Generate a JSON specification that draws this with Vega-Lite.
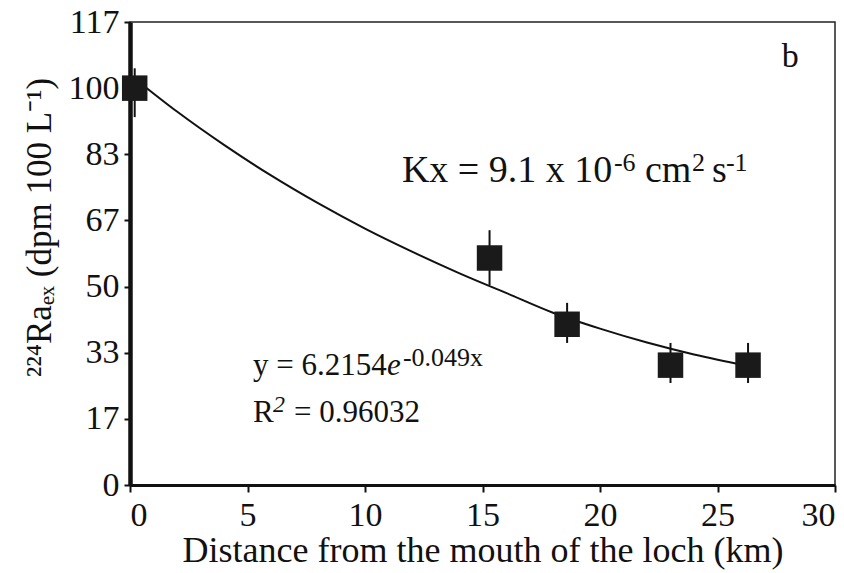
{
  "$schema": "https://vega.github.io/schema/vega-lite/v6.json",
  "autosize": "none",
  "width": 705,
  "height": 463,
  "padding": {"left": 130, "top": 22, "right": 9, "bottom": 88},
  "background": "white",
  "config": {
    "view": {"stroke": "#222", "strokeWidth": 1.5},
    "font": "Liberation Serif",
    "text": {"font": "Liberation Serif"},
    "axis": {"grid": false, "labelFont": "Liberation Serif", "titleFont": "Liberation Serif", "labelColor": "#111", "titleColor": "#111", "domainColor": "#111", "tickColor": "#111", "titleFontWeight": "normal"}
  },
  "datasets": {
    "obs": [
      {"d": 0.2, "ra": 100, "lo": 92.7, "hi": 105},
      {"d": 15.3, "ra": 57.2, "lo": 50.4, "hi": 64.2},
      {"d": 18.6, "ra": 40.5, "lo": 35.8, "hi": 45.9},
      {"d": 23.0, "ra": 30.2, "lo": 25.7, "hi": 35.8},
      {"d": 26.3, "ra": 30.2, "lo": 25.7, "hi": 35.8}
    ],
    "fit": [
      {"d": 0.5, "ra": 101},
      {"d": 2, "ra": 94.1},
      {"d": 4, "ra": 85.7},
      {"d": 6, "ra": 78.0},
      {"d": 8, "ra": 71.0},
      {"d": 10, "ra": 64.6},
      {"d": 12, "ra": 58.8},
      {"d": 14, "ra": 53.4},
      {"d": 16, "ra": 48.4},
      {"d": 18, "ra": 43.4},
      {"d": 20, "ra": 39.4},
      {"d": 22, "ra": 35.9},
      {"d": 24, "ra": 32.9},
      {"d": 26.3, "ra": 30.0}
    ],
    "one": [{}]
  },
  "layer": [
    {
      "data": {"name": "fit"},
      "mark": {"type": "line", "color": "#111", "strokeWidth": 2, "interpolate": "monotone"},
      "encoding": {
        "x": {"field": "d", "type": "quantitative", "scale": {"domain": [0, 30], "nice": false},
          "axis": {"values": [0, 5, 10, 15, 20, 25, 30], "title": "Distance from the mouth of the loch (km)", "labelFontSize": 34, "titleFontSize": 36, "domainWidth": 3, "tickWidth": 2, "tickSize": 7, "labelPadding": 6, "titlePadding": 1}},
        "y": {"field": "ra", "type": "quantitative", "scale": {"domain": [0, 116.667], "nice": false},
          "axis": {"values": [0, 16.667, 33.333, 50, 66.667, 83.333, 100, 116.667], "format": ".0f", "title": "²²⁴Raₑₓ (dpm 100 L⁻¹)", "labelFontSize": 34, "titleFontSize": 35, "domainWidth": 4.5, "tickWidth": 2, "tickSize": 6, "labelPadding": 5, "titleX": -80, "titleY": 205, "titleBaseline": "alphabetic", "titleAlign": "center", "titleAngle": 270}}
      }
    },
    {
      "data": {"name": "obs"},
      "mark": {"type": "rule", "color": "#111", "strokeWidth": 2},
      "encoding": {
        "x": {"field": "d", "type": "quantitative"},
        "y": {"field": "lo", "type": "quantitative"},
        "y2": {"field": "hi"}
      }
    },
    {
      "data": {"name": "obs"},
      "mark": {"type": "point", "shape": "square", "filled": true, "color": "#1a1a1a", "opacity": 1, "size": 650},
      "encoding": {
        "x": {"field": "d", "type": "quantitative"},
        "y": {"field": "ra", "type": "quantitative"}
      }
    },
    {
      "data": {"name": "one"},
      "mark": {"type": "text", "text": "b", "font": "Liberation Serif", "fontSize": 34, "color": "#111", "align": "center", "baseline": "alphabetic"},
      "encoding": {"x": {"datum": 28.1}, "y": {"datum": 105.3}}
    },
    {
      "data": {"name": "one"},
      "mark": {"type": "text", "text": "Kx = 9.1 x 10", "font": "Liberation Serif", "fontSize": 38, "color": "#111", "align": "left", "baseline": "alphabetic"},
      "encoding": {"x": {"datum": 11.57}, "y": {"datum": 76.4}}
    },
    {
      "data": {"name": "one"},
      "mark": {"type": "text", "text": "-6", "font": "Liberation Serif", "fontSize": 26, "color": "#111", "align": "left", "baseline": "alphabetic", "dx": 212, "dy": -11},
      "encoding": {"x": {"datum": 11.57}, "y": {"datum": 76.4}}
    },
    {
      "data": {"name": "one"},
      "mark": {"type": "text", "text": "cm", "font": "Liberation Serif", "fontSize": 38, "color": "#111", "align": "left", "baseline": "alphabetic", "dx": 243},
      "encoding": {"x": {"datum": 11.57}, "y": {"datum": 76.4}}
    },
    {
      "data": {"name": "one"},
      "mark": {"type": "text", "text": "2", "font": "Liberation Serif", "fontSize": 26, "color": "#111", "align": "left", "baseline": "alphabetic", "dx": 290, "dy": -11},
      "encoding": {"x": {"datum": 11.57}, "y": {"datum": 76.4}}
    },
    {
      "data": {"name": "one"},
      "mark": {"type": "text", "text": "s", "font": "Liberation Serif", "fontSize": 38, "color": "#111", "align": "left", "baseline": "alphabetic", "dx": 310},
      "encoding": {"x": {"datum": 11.57}, "y": {"datum": 76.4}}
    },
    {
      "data": {"name": "one"},
      "mark": {"type": "text", "text": "-1", "font": "Liberation Serif", "fontSize": 26, "color": "#111", "align": "left", "baseline": "alphabetic", "dx": 324, "dy": -11},
      "encoding": {"x": {"datum": 11.57}, "y": {"datum": 76.4}}
    },
    {
      "data": {"name": "one"},
      "mark": {"type": "text", "text": "y = 6.2154", "font": "Liberation Serif", "fontSize": 31, "color": "#111", "align": "left", "baseline": "alphabetic"},
      "encoding": {"x": {"datum": 5.23}, "y": {"datum": 27.7}}
    },
    {
      "data": {"name": "one"},
      "mark": {"type": "text", "text": "e", "font": "Liberation Serif", "fontSize": 31, "fontStyle": "italic", "color": "#111", "align": "left", "baseline": "alphabetic", "dx": 134},
      "encoding": {"x": {"datum": 5.23}, "y": {"datum": 27.7}}
    },
    {
      "data": {"name": "one"},
      "mark": {"type": "text", "text": "-0.049x", "font": "Liberation Serif", "fontSize": 26, "color": "#111", "align": "left", "baseline": "alphabetic", "dx": 150, "dy": -9},
      "encoding": {"x": {"datum": 5.23}, "y": {"datum": 27.7}}
    },
    {
      "data": {"name": "one"},
      "mark": {"type": "text", "text": "R", "font": "Liberation Serif", "fontSize": 31, "color": "#111", "align": "left", "baseline": "alphabetic"},
      "encoding": {"x": {"datum": 5.23}, "y": {"datum": 15.9}}
    },
    {
      "data": {"name": "one"},
      "mark": {"type": "text", "text": "2", "font": "Liberation Serif", "fontSize": 24, "fontStyle": "italic", "color": "#111", "align": "left", "baseline": "alphabetic", "dx": 20, "dy": -10},
      "encoding": {"x": {"datum": 5.23}, "y": {"datum": 15.9}}
    },
    {
      "data": {"name": "one"},
      "mark": {"type": "text", "text": "= 0.96032", "font": "Liberation Serif", "fontSize": 31, "color": "#111", "align": "left", "baseline": "alphabetic", "dx": 41},
      "encoding": {"x": {"datum": 5.23}, "y": {"datum": 15.9}}
    }
  ]
}
